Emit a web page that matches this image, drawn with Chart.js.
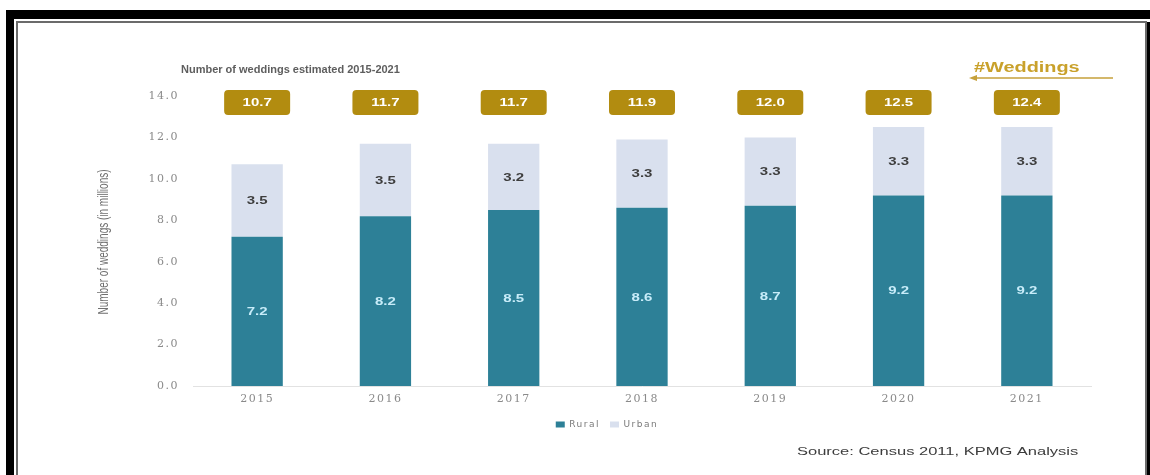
<!DOCTYPE html>
<html>
<head>
<meta charset="utf-8">
<script src="https://cdn.jsdelivr.net/npm/chart.js@4.4.0/dist/chart.umd.min.js"></script>
<style>
  html, body { margin: 0; padding: 0; background: #fff; }
  #wrap { position: relative; width: 1150px; height: 475px; overflow: hidden; }
  #chart { position: absolute; left: 0; top: 0; }
  .edge { position: absolute; background: #000; }
  #inner { position: absolute; left: 16px; top: 21px; width: 1131px; height: 456px;
           border: 2px solid #6b6b6b; box-sizing: border-box; }
</style>
</head>
<body>
<div id="wrap">
  <canvas id="chart" width="1150" height="475"></canvas>
  <div class="edge" style="left:6px;top:10px;width:1144px;height:9px"></div>
  <div class="edge" style="left:6px;top:10px;width:8px;height:465px"></div>
  <div class="edge" style="left:1147px;top:22px;width:3px;height:453px"></div>
  <div id="inner"></div>
</div>
<script>
// weddings per year, millions
const years = ['2015', '2016', '2017', '2018', '2019', '2020', '2021'];
const rural = [7.2, 8.2, 8.5, 8.6, 8.7, 9.2, 9.2];
const urban = [3.5, 3.5, 3.2, 3.3, 3.3, 3.3, 3.3];
const totals = [10.7, 11.7, 11.7, 11.9, 12.0, 12.5, 12.4];
const yMax = 14;
const yStep = 2;

const teal = '#2d8097';
const lavender = '#d9e0ee';
const gold = '#b28c10';

// draw text squeezed/stretched horizontally around (x, y)
function wideText(ctx, text, x, y, sx, align) {
    ctx.save();
    ctx.translate(x, y);
    ctx.scale(sx, 1);
    ctx.textAlign = align || 'center';
    ctx.textBaseline = 'middle';
    ctx.fillText(text, 0, 0);
    ctx.restore();
}

const extras = {
    id: 'extras',
    beforeLayout(chart) { chart.ctx.letterSpacing = '1.5px'; },
    beforeDraw(chart) { chart.ctx.letterSpacing = '1.5px'; },
    afterDatasetsDraw(chart) {
        const ctx = chart.ctx;
        ctx.save();
        ctx.letterSpacing = '0px';
        ctx.font = 'bold 10px "Liberation Sans", Arial, sans-serif';
        chart.data.datasets.forEach((ds, di) => {
            const meta = chart.getDatasetMeta(di);
            ctx.fillStyle = di === 0 ? '#c8ecf9' : '#3e3e3e';
            meta.data.forEach((bar, i) => {
                wideText(ctx, ds.data[i].toFixed(1), bar.x, (bar.y + bar.base) / 2 + 1, 1.5);
            });
        });
        ctx.restore();
    },
    afterDraw(chart) {
        const ctx = chart.ctx;
        const xs = chart.scales.x;
        const top = chart.chartArea.top;
        ctx.save();
        ctx.letterSpacing = '0px';

        // total badges above each column
        totals.forEach((t, i) => {
            const x = xs.getPixelForValue(i);
            ctx.fillStyle = gold;
            ctx.beginPath();
            ctx.roundRect(x - 33, top - 6, 66, 25, 4);
            ctx.fill();
            ctx.fillStyle = '#ffffff';
            ctx.font = 'bold 10px "Liberation Sans", Arial, sans-serif';
            wideText(ctx, t.toFixed(1), x, top + 7, 1.5);
        });

        // heading
        ctx.fillStyle = '#5e5e5e';
        ctx.font = 'bold 11px "Liberation Sans", Arial, sans-serif';
        ctx.textAlign = 'left';
        ctx.textBaseline = 'middle';
        ctx.fillText('Number of weddings estimated 2015-2021', 181, 70);

        // tag with arrow
        ctx.fillStyle = '#c9a12b';
        ctx.font = 'bold 14px "Liberation Sans", Arial, sans-serif';
        wideText(ctx, '#Weddings', 974, 68, 1.42, 'left');
        ctx.strokeStyle = '#c6a13a';
        ctx.lineWidth = 1.5;
        ctx.beginPath();
        ctx.moveTo(1113, 78);
        ctx.lineTo(974, 78);
        ctx.stroke();
        ctx.fillStyle = '#c6a13a';
        ctx.beginPath();
        ctx.moveTo(969, 78);
        ctx.lineTo(977, 75);
        ctx.lineTo(977, 81);
        ctx.closePath();
        ctx.fill();

        // vertical axis title
        ctx.save();
        ctx.fillStyle = '#707070';
        ctx.font = '10px "Liberation Sans", Arial, sans-serif';
        ctx.translate(104, 242);
        ctx.scale(1.5, 1);
        ctx.rotate(-Math.PI / 2);
        ctx.textAlign = 'center';
        ctx.textBaseline = 'middle';
        ctx.fillText('Number of weddings (in millions)', 0, 0);
        ctx.restore();

        // source line
        ctx.fillStyle = '#3c3c3c';
        ctx.font = '11px "Liberation Sans", Arial, sans-serif';
        wideText(ctx, 'Source: Census 2011, KPMG Analysis', 797, 452, 1.5, 'left');
        ctx.restore();
    }
};

const tickFont = { family: '"DejaVu Serif", serif', size: 11 };

new Chart(document.getElementById('chart'), {
    type: 'bar',
    data: {
        labels: years,
        datasets: [
            { label: 'Rural', data: rural, backgroundColor: teal, borderWidth: 0,
              barPercentage: 0.8, categoryPercentage: 0.5 },
            { label: 'Urban', data: urban, backgroundColor: lavender, borderWidth: 0,
              barPercentage: 0.8, categoryPercentage: 0.5 }
        ]
    },
    options: {
        responsive: false,
        animation: false,
        devicePixelRatio: 1,
        layout: { padding: { top: 96, left: 123, right: 59, bottom: 36 } },
        plugins: {
            legend: {
                position: 'bottom',
                labels: {
                    boxWidth: 9, boxHeight: 6, padding: 10,
                    color: '#7a7a7a',
                    font: { family: '"DejaVu Sans", sans-serif', size: 9 }
                }
            },
            tooltip: { enabled: false }
        },
        scales: {
            x: {
                stacked: true,
                grid: { display: false, drawTicks: false },
                border: { display: true, color: '#e2e2e2', width: 1 },
                ticks: { color: '#8a8a8a', font: tickFont, padding: 7 },
                afterFit(s) { s.height = 24; }
            },
            y: {
                stacked: true,
                min: 0,
                max: yMax,
                grid: { display: false, drawTicks: false },
                border: { display: false },
                ticks: {
                    stepSize: yStep,
                    color: '#8a8a8a',
                    font: tickFont,
                    padding: 14,
                    callback: v => v.toFixed(1)
                },
                afterFit(s) { s.width = 70; }
            }
        }
    },
    plugins: [extras]
});
</script>
</body>
</html>
